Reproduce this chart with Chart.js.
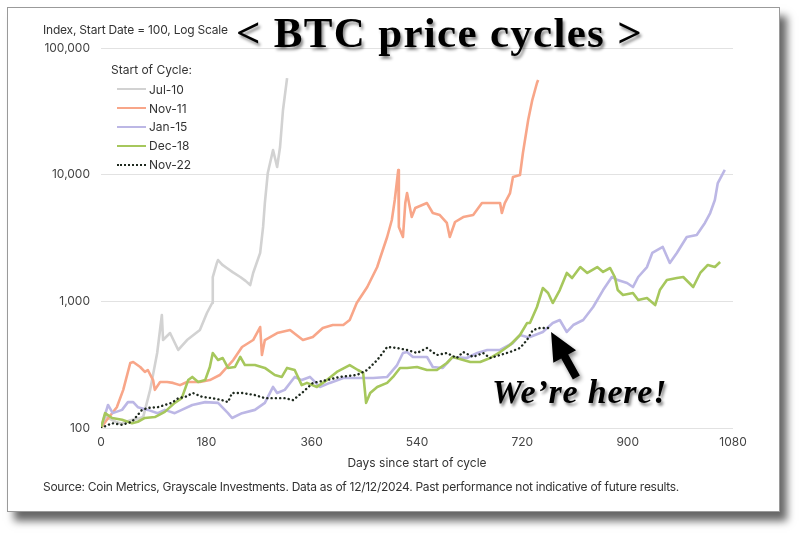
<!DOCTYPE html>
<html>
<head>
<meta charset="utf-8">
<script src="https://cdn.jsdelivr.net/npm/chart.js@4.4.1/dist/chart.umd.min.js"></script>
<style>
  html, body { margin: 0; padding: 0; background: #fff; }
  body { width: 800px; height: 536px; position: relative; overflow: hidden; font-family: Inter, sans-serif; color: #333; }
  .card { position: absolute; left: 7px; top: 7px; width: 771px; height: 503px; border: 1px solid #9a9a9a; background: #fff; box-shadow: 7px 9px 8px rgba(0,0,0,0.6); }
  #chart { position: absolute; left: 0; top: 0; }
  .txt { position: absolute; white-space: nowrap; line-height: 1; }
  .small { font-size: 12px; color: #333; }
  .title { font-family: "Liberation Serif", serif; font-weight: bold; font-size: 43px; letter-spacing: 1.3px; color: #000; left: 236px; top: 11px; text-shadow: 2px 3px 3px rgba(0,0,0,0.45); }
  .here { font-family: "Liberation Serif", serif; font-weight: bold; font-style: italic; font-size: 34px; letter-spacing: 0.8px; color: #000; left: 492px; top: 375px; text-shadow: 2px 3px 3px rgba(0,0,0,0.45); }
  #legend { position: absolute; left: 111px; top: 62px; font-size: 12px; color: #333; }
  #legend .head { height: 16px; margin-bottom: 2px; }
  #legend .row { display: flex; align-items: center; height: 18.8px; padding-left: 6px; }
  #legend .swatch { width: 29px; margin-right: 3px; }
</style>
</head>
<body>
<div class="card"></div>
<canvas id="chart" width="800" height="536"></canvas>
<div class="txt small" style="left:43px; top:24px; letter-spacing:-0.2px;">Index, Start Date = 100, Log Scale</div>
<div class="txt title">&lt; BTC price cycles &gt;</div>
<div id="legend"><div class="head">Start of Cycle:</div></div>
<div class="txt here">We’re here!</div>
<div class="txt small" style="left:0; width:834px; text-align:center; top:457px;">Days since start of cycle</div>
<div class="txt small" style="left:43px; top:481px; letter-spacing:-0.28px;">Source: Coin Metrics, Grayscale Investments. Data as of 12/12/2024. Past performance not indicative of future results.</div>
<script>
// Index values, start date = 100
const seriesNames = ['Jul-10', 'Nov-11', 'Jan-15', 'Dec-18', 'Nov-22'];
const yTicks = [100, 1000, 10000, 100000];

const jul10Days = [0, 8, 15, 25, 35, 50, 62, 72, 84, 96, 104, 106, 118, 132, 147, 169, 181, 190, 191, 198, 200, 207, 215, 225, 238, 247, 255, 260, 272, 277, 280, 285, 294, 301, 306, 311, 318];
const jul10Values = [100, 125, 118, 112, 108, 115, 118, 122, 200, 391, 780, 495, 562, 413, 495, 594, 809, 970, 1556, 2009, 2120, 1950, 1833, 1700, 1556, 1450, 1345, 1675, 2410, 3865, 5970, 10300, 15660, 11500, 16530, 32400, 57900];

const nov11Days = [0, 10, 27, 38, 50, 55, 67, 75, 80, 89, 92, 101, 113, 123, 135, 147, 169, 186, 203, 226, 241, 260, 272, 275, 280, 301, 323, 345, 362, 379, 396, 414, 425, 437, 455, 472, 477, 489, 497, 502, 508, 509, 516, 520, 523, 531, 537, 557, 567, 579, 591, 596, 605, 619, 636, 651, 665, 682, 685, 690, 699, 704, 716, 721, 730, 737, 745, 747];
const nov11Values = [100, 116, 146, 200, 326, 332, 303, 277, 287, 239, 200, 231, 231, 227, 218, 231, 231, 239, 262, 344, 436, 495, 627, 377, 495, 562, 594, 495, 523, 616, 650, 650, 712, 970, 1297, 1866, 2198, 3220, 4385, 6310, 10890, 3865, 3220, 5970, 7160, 4630, 5460, 5970, 4980, 4800, 4155, 3220, 4230, 4630, 4800, 5970, 5970, 5970, 4980, 5970, 7160, 9590, 9940, 14830, 27000, 38800, 52900, 55850];

const jan15Days = [0, 12, 20, 36, 46, 55, 63, 80, 97, 109, 126, 138, 156, 178, 200, 217, 224, 241, 263, 280, 294, 301, 314, 331, 343, 357, 374, 391, 414, 443, 465, 489, 506, 516, 523, 533, 557, 567, 584, 601, 625, 643, 660, 682, 704, 716, 728, 733, 755, 772, 784, 796, 807, 824, 841, 858, 873, 883, 899, 909, 918, 933, 942, 960, 972, 984, 1001, 1018, 1032, 1041, 1049, 1054, 1063, 1066];
const jan15Values = [100, 152, 131, 139, 160, 160, 146, 139, 131, 139, 131, 139, 152, 160, 158, 131, 120, 131, 139, 158, 211, 189, 200, 253, 239, 253, 211, 227, 248, 248, 248, 253, 314, 391, 398, 364, 364, 303, 298, 364, 357, 391, 413, 413, 469, 542, 523, 523, 573, 674, 712, 573, 650, 712, 902, 1228, 1556, 1472, 1396, 1297, 1556, 1866, 2410, 2688, 2009, 2410, 3220, 3340, 4155, 4980, 6310, 8590, 10300, 10890];

const dec18Days = [0, 7, 19, 36, 53, 63, 75, 92, 109, 126, 138, 149, 156, 166, 178, 186, 191, 200, 208, 217, 229, 238, 246, 263, 280, 297, 309, 318, 331, 343, 352, 369, 386, 403, 425, 439, 448, 453, 460, 472, 489, 499, 511, 523, 540, 557, 574, 591, 601, 619, 631, 648, 665, 682, 699, 716, 728, 733, 745, 755, 764, 772, 784, 796, 805, 819, 831, 848, 858, 870, 878, 883, 892, 909, 918, 933, 947, 955, 967, 984, 995, 1012, 1024, 1037, 1049, 1058];
const dec18Values = [100, 131, 120, 116, 109, 112, 120, 122, 134, 158, 172, 239, 253, 231, 239, 303, 391, 344, 357, 298, 303, 364, 314, 314, 298, 262, 253, 298, 287, 218, 227, 211, 239, 277, 314, 287, 272, 158, 189, 211, 227, 253, 298, 298, 303, 287, 287, 326, 364, 344, 332, 332, 357, 398, 452, 542, 674, 674, 902, 1274, 1164, 970, 1228, 1675, 1528, 1866, 1675, 1866, 1706, 1833, 1556, 1228, 1122, 1164, 1025, 1062, 935, 1228, 1472, 1528, 1556, 1297, 1675, 1937, 1866, 2045];

const nov22Days = [0, 19, 36, 53, 70, 80, 97, 109, 121, 132, 144, 157, 173, 190, 207, 217, 224, 241, 263, 280, 297, 314, 328, 345, 362, 386, 408, 437, 455, 472, 489, 506, 523, 540, 557, 574, 591, 608, 619, 636, 653, 665, 682, 699, 716, 728, 738, 750, 764];
const nov22Values = [100, 109, 106, 112, 139, 144, 146, 152, 158, 172, 176, 189, 176, 172, 166, 160, 189, 189, 182, 172, 172, 172, 166, 192, 227, 239, 253, 262, 287, 344, 436, 428, 413, 391, 428, 377, 391, 357, 398, 364, 391, 357, 377, 398, 428, 495, 594, 616, 616];

const allDays = [jul10Days, nov11Days, jan15Days, dec18Days, nov22Days];
const allValues = [jul10Values, nov11Values, jan15Values, dec18Values, nov22Values];
const colors = ['#d2d2d2', '#f8a689', '#bcb7e5', '#a6c75c', '#1e291e'];

const datasets = seriesNames.map((name, i) => ({
    label: name,
    data: allDays[i].map((d, j) => ({ x: d, y: allValues[i][j] })),
    borderColor: colors[i],
    borderWidth: i === 4 ? 2.4 : 2.6,
    borderDash: i === 4 ? [0.1, 4.2] : [],
    borderCapStyle: i === 4 ? 'round' : 'butt',
    order: 4 - i
}));

// "We're here" arrow, anchored on the last Nov-22 point
const arrowPlugin = {
    id: 'hereArrow',
    afterDatasetsDraw(chart) {
        const meta = chart.getDatasetMeta(4);
        const last = meta.data[meta.data.length - 1];
        const tipX = last.x + 3, tipY = last.y + 4;
        const ux = -0.486, uy = -0.874;
        const nx = 0.874, ny = -0.486;
        const baseX = tipX - ux * 28, baseY = tipY - uy * 28;
        const tailX = tipX - ux * 52, tailY = tipY - uy * 52;
        const ctx = chart.ctx;
        ctx.save();
        ctx.shadowColor = 'rgba(0,0,0,0.45)';
        ctx.shadowBlur = 4;
        ctx.shadowOffsetX = 2;
        ctx.shadowOffsetY = 3;
        ctx.fillStyle = '#000';
        ctx.beginPath();
        ctx.moveTo(tipX, tipY);
        ctx.lineTo(baseX + nx * 13, baseY + ny * 13);
        ctx.lineTo(baseX + nx * 4, baseY + ny * 4);
        ctx.lineTo(tailX + nx * 4, tailY + ny * 4);
        ctx.lineTo(tailX - nx * 4, tailY - ny * 4);
        ctx.lineTo(baseX - nx * 4, baseY - ny * 4);
        ctx.lineTo(baseX - nx * 13, baseY - ny * 13);
        ctx.closePath();
        ctx.fill();
        ctx.restore();
    }
};

const tickFont = { family: 'Inter', size: 12 };

new Chart(document.getElementById('chart').getContext('2d'), {
    type: 'line',
    data: { datasets: datasets },
    options: {
        responsive: false,
        animation: false,
        layout: { padding: { left: 43, right: 67, top: 48, bottom: 88 } },
        elements: { point: { radius: 0 }, line: { tension: 0, borderJoinStyle: 'round' } },
        plugins: { legend: { display: false }, tooltip: { enabled: false } },
        scales: {
            x: {
                type: 'linear', min: 0, max: 1080,
                ticks: { stepSize: 180, color: '#444', font: tickFont, padding: 7, maxRotation: 0, callback: v => String(v) },
                grid: { display: false, drawTicks: false },
                border: { display: false },
                afterFit(scale) { scale.height = 20; }
            },
            y: {
                type: 'logarithmic', min: 100, max: 100000,
                afterBuildTicks(scale) { scale.ticks = yTicks.map(v => ({ value: v })); },
                ticks: { color: '#444', font: tickFont, padding: 11, callback: v => v.toLocaleString('en-US') },
                grid: { color: '#e2e2e2', lineWidth: 1, drawTicks: false },
                border: { display: false },
                afterFit(scale) { scale.width = 58; }
            }
        }
    },
    plugins: [arrowPlugin]
});

// legend built from the series
const legend = document.getElementById('legend');
seriesNames.forEach((name, i) => {
    const row = document.createElement('div');
    row.className = 'row';
    const sw = document.createElement('div');
    sw.className = 'swatch';
    sw.style.borderTop = i === 4 ? '2.5px dotted ' + colors[i] : '2.5px solid ' + colors[i];
    row.appendChild(sw);
    row.appendChild(document.createTextNode(name));
    legend.appendChild(row);
});
</script>
</body>
</html>
